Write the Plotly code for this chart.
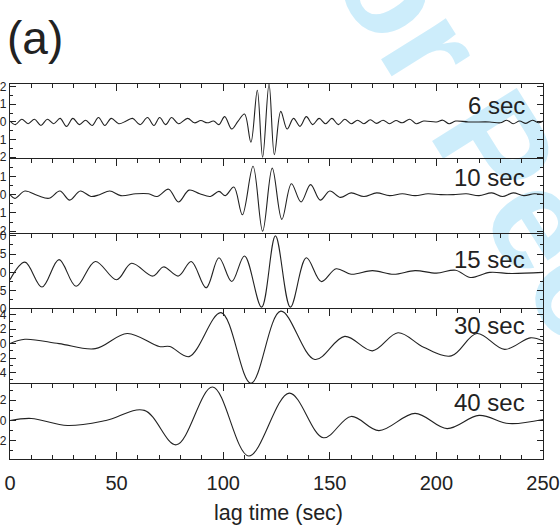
import plotly.graph_objects as go
from plotly.subplots import make_subplots

# Lag-time samples (sec) and normalised cross-correlation amplitudes per period band
t6 = [0, 2.5, 5.5, 8.5, 11.5, 14.5, 17.5, 20.5, 23.5, 26.5, 29.5, 32.5, 35.5, 38.5, 41.5,
      44.5, 47.5, 51, 54.5, 57.5, 61, 64.5, 67.5, 70.2, 73, 75.8, 79, 83.3, 86.5, 89.5,
      92.5, 95.5, 98, 100.7, 104, 107, 110, 113, 116, 118.5, 121.5, 124, 127, 130, 133,
      136, 139, 142, 145, 148, 151, 154, 157, 160, 163, 166, 169, 172, 175, 178,
      181, 184, 187.5, 190.5, 194, 200, 203, 206, 209, 215, 225, 230, 233, 236, 239,
      242, 245, 248, 250]
v6 = [0.05, -0.15, 0.15, -0.1, 0.15, -0.2, 0.15, -0.1, 0.2, -0.25, 0.2, -0.15, 0.1, -0.2, 0.25,
      -0.2, 0.2, -0.1, 0.05, 0.2, -0.15, 0.25, -0.2, 0.25, -0.15, 0.25, -0.1, 0.2, -0.05, 0.08,
      -0.05, 0.05, -0.15, 0.3, -0.4, 0.05, 0.45, -1.15, 1.8, -2.0, 2.15, -1.85, 0.6, -0.4, 0.2,
      -0.25, 0.3, -0.15, 0.2, -0.1, 0.2, -0.15, 0.15, -0.1, 0.1, -0.1, 0.12, -0.08, 0.1, -0.1,
      0.08, -0.05, 0.15, -0.1, 0.05, 0.0, 0.1, -0.1, 0.05, 0.0, 0.0, -0.05, 0.1, -0.1, 0.05,
      -0.08, 0.1, -0.05, 0.05]

t10 = [0, 2.3, 7, 13, 18.3, 23.4, 28, 33, 38, 42, 46.8, 52, 59, 65, 69, 74.4, 79, 84, 89, 94,
       98, 101, 105, 109, 114, 118.5, 123, 127.5, 132, 136.5, 141, 145.5, 150, 155, 160,
       166, 172, 178, 184, 190, 196, 202, 208, 214, 220, 226, 231, 236, 241, 246, 250]
v10 = [0.0, -0.2, 0.2, -0.05, -0.2, 0.2, -0.3, 0.2, -0.1, 0.0, 0.2, -0.05, 0.05, 0.05, -0.1,
       0.3, -0.4, 0.25, 0.05, -0.1, 0.18, -0.05, 0.42, -1.1, 1.55, -2.0, 1.45, -1.35, 0.6, -0.4,
       0.55, -0.3, 0.2, -0.15, 0.1, -0.1, 0.1, -0.05, 0.05, -0.05, 0.05, 0.0, 0.0, 0.05, -0.05,
       0.1, -0.1, 0.1, -0.05, 0.05, 0.0]

t15 = [0, 7, 15, 23, 31, 40, 50, 57, 67, 72, 79, 85, 92, 98, 104, 110, 118, 124.5, 131.5, 139,
       146, 153, 160, 170, 180, 190, 200, 209, 216, 225, 235, 250]
v15 = [-0.2, 0.28, -0.4, 0.35, -0.38, 0.3, -0.2, 0.25, -0.1, 0.15, -0.1, 0.3, -0.42, 0.4, -0.25,
       0.45, -0.95, 1.0, -0.95, 0.4, -0.25, 0.1, -0.05, 0.05, -0.05, 0.05, -0.02, 0.06, -0.14,
       0.0, -0.03, 0.0]

t30 = [0, 7, 23, 40, 55, 70, 75, 84, 99, 113, 127, 143, 157, 170, 182, 194, 207, 219, 232, 244, 250]
v30 = [0.0, 0.06, 0.0, -0.07, 0.14, -0.04, -0.04, -0.18, 0.43, -0.55, 0.45, -0.22, 0.1, -0.1,
       0.15, -0.05, -0.17, 0.14, -0.08, 0.08, 0.04]

t40 = [0, 10, 27, 45, 63, 78, 95, 112, 131, 147, 160, 173, 190, 205, 220, 234, 250]
v40 = [0.0, 0.02, -0.05, 0.0, 0.1, -0.24, 0.33, -0.35, 0.27, -0.17, 0.04, -0.1, 0.07, -0.08,
       0.05, -0.03, 0.01]

band_labels = ["6 sec", "10 sec", "15 sec", "30 sec", "40 sec"]
x_tick_vals = [0, 50, 100, 150, 200, 250]

series = [(t6, v6), (t10, v10), (t15, v15), (t30, v30), (t40, v40)]
y_ranges = [[-2.1, 2.15], [-2.15, 1.95], [-1.0, 1.05], [-0.56, 0.48], [-0.38, 0.36]]
y_major = [1, 1, 0.5, 0.2, 0.2]
y_minor = [0.5, 0.5, 0.25, 0.1, 0.1]
y_fmt = ["d", "d", ".1f", ".1f", ".1f"]

INK = "#222222"
FONT = "Liberation Sans, Arial, Helvetica, sans-serif"

fig = make_subplots(rows=5, cols=1, shared_xaxes=True, vertical_spacing=0)

for i, (tt, vv) in enumerate(series, start=1):
    fig.add_trace(go.Scatter(x=tt, y=vv, mode="lines",
                             line=dict(color=INK, width=1.1, shape="spline", smoothing=1.0),
                             showlegend=False, hoverinfo="skip"), row=i, col=1)

    last = i == 5
    # every panel carries inward ticks on its top edge; the bottom panel also on its base
    fig.update_xaxes(row=i, col=1, range=[0, 250], showline=True, linecolor=INK, linewidth=1.3,
                     ticks="inside", ticklen=7, tickwidth=1.1, tickcolor=INK,
                     tickvals=x_tick_vals,
                     minor=dict(dtick=10, tick0=0, ticks="inside", ticklen=4, tickwidth=1,
                                tickcolor=INK),
                     showgrid=False, zeroline=False, automargin=False,
                     side="bottom" if last else "top",
                     mirror="ticks" if last else False,
                     showticklabels=last, ticklabelstandoff=6,
                     tickfont=dict(family=FONT, size=20, color=INK))
    fig.update_yaxes(row=i, col=1, range=y_ranges[i - 1], showline=True, linecolor=INK,
                     linewidth=1.3, mirror="ticks", ticks="inside", ticklen=6, tickwidth=1.1,
                     tickcolor=INK, dtick=y_major[i - 1], tick0=0, tickformat=y_fmt[i - 1],
                     minor=dict(dtick=y_minor[i - 1], tick0=0, ticks="inside", ticklen=3,
                                tickwidth=1, tickcolor=INK),
                     showgrid=False, zeroline=False, automargin=False,
                     tickfont=dict(family=FONT, size=12, color=INK))

# Plot area: x 10..543 px, y 84..459 px
L, R, T, B = 10, 543, 84, 459
W, H = 560, 529


def px(x):
    return (x - L) / (R - L)


def py(y):
    return (B - y) / (B - T)


label_y = [105, 177, 259, 325, 402]
annotations = []
for lab, yy in zip(band_labels, label_y):
    annotations.append(dict(text=lab, x=px(527), y=py(yy), xref="paper", yref="paper",
                            xanchor="right", yanchor="middle", showarrow=False,
                            font=dict(family=FONT, size=24, color=INK)))

annotations.append(dict(text="(a)", x=px(5), y=py(38), xref="paper", yref="paper",
                        xanchor="left", yanchor="middle", showarrow=False,
                        font=dict(family=FONT, size=46, color=INK)))
annotations.append(dict(text="lag time (sec)", x=px(278), y=py(513), xref="paper",
                        yref="paper", xanchor="center", yanchor="middle", showarrow=False,
                        font=dict(family=FONT, size=21.5, color=INK)))

# Review watermark, drawn underneath the traces
WX, WY = 635, 345
shapes = [dict(type="rect", xref="paper", yref="paper", layer="below",
               x0=px(WX) - 0.01, x1=px(WX) + 0.01, y0=py(WY) - 0.01, y1=py(WY) + 0.01,
               line=dict(width=0), fillcolor="rgba(0,0,0,0)",
               label=dict(text="<b>For Peer Review</b>", textangle=58,
                          textposition="middle center",
                          font=dict(family=FONT, size=145, color="#cdedfb")))]

fig.update_layout(width=W, height=H, margin=dict(l=L, r=W - R, t=T, b=H - B),
                  paper_bgcolor="white", plot_bgcolor="rgba(0,0,0,0)",
                  annotations=annotations, shapes=shapes, showlegend=False)

fig.write_html("out.html")
